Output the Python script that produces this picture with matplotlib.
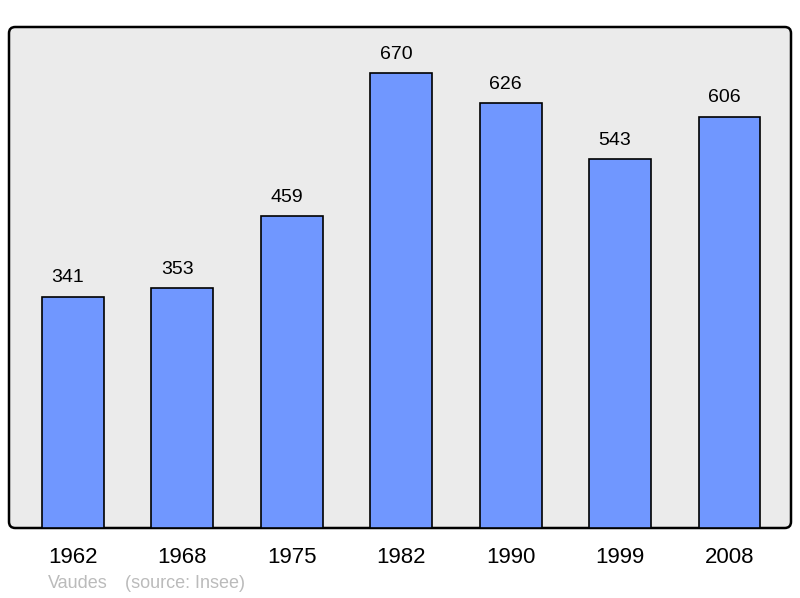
import matplotlib
matplotlib.use("Agg")
import matplotlib.pyplot as plt
from matplotlib.patches import FancyBboxPatch

years = ["1962", "1968", "1975", "1982", "1990", "1999", "2008"]
population = [341, 353, 459, 670, 626, 543, 606]

plt.rcParams['font.family'] = ['Liberation Sans', 'DejaVu Sans']

fig = plt.figure(figsize=(8.0, 5.98), dpi=100)
ax = fig.add_axes([9/800, 70/598, 782/800, 501/598])
ax.set_facecolor('none')
x = list(range(len(years)))
bars = ax.bar(x, population, width=0.566, color='#7097ff', edgecolor='black', linewidth=1.2, zorder=2)
for xi, v in zip(x, population):
    ax.annotate(str(v), (xi, v), xytext=(-3.6, 7.5), textcoords='offset points',
                ha='center', va='bottom', fontsize=14, color='black')
ax.set_xlim(-0.584, 6.562)
ax.set_ylim(0, 738)
ax.set_xticks(x)
ax.set_xticklabels(years, fontsize=16)
ax.tick_params(axis='x', length=0, pad=14)
ax.set_yticks([])
for s in ax.spines.values():
    s.set_visible(False)
bg = FancyBboxPatch((0, 0), 1, 1, boxstyle="round,pad=0,rounding_size=0.008",
                    transform=ax.transAxes, facecolor='#ebebeb', edgecolor='black',
                    linewidth=1.8, zorder=0, clip_on=False, mutation_aspect=782/501)
ax.add_patch(bg)
fig.text(48/800, 1-584/598, "Vaudes", color='#bbbbbb', fontsize=13, va='center', ha='left')
fig.text(125/800, 1-584/598, "(source: Insee)", color='#bbbbbb', fontsize=13, va='center', ha='left')
fig.savefig("out.png", dpi=100)
